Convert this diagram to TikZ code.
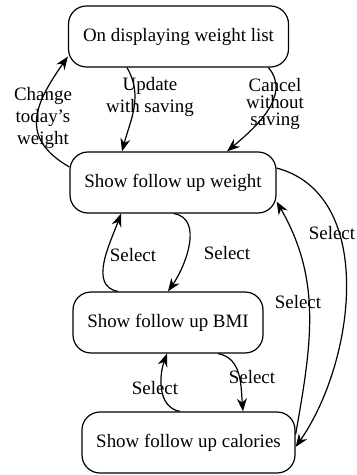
\documentclass[tikz,border=0pt]{standalone}
\usepackage{fontspec}
\setmainfont{Liberation Serif}
\usetikzlibrary{arrows.meta}

\begin{document}
\begin{tikzpicture}[x=1bp,y=1bp,
	state/.style={draw, line width=1.2bp, rounded corners=18bp,
		minimum height=61bp, inner sep=0pt, font=\fontsize{19}{22}\selectfont},
	trans/.style={line width=1.2bp, -{Stealth[length=13bp,width=10bp]}},
	lbl/.style={align=center, inner sep=0pt, font=\fontsize{19}{22}\selectfont}]
	%\draw[help lines] (0,0) grid (356,-475);
	\useasboundingbox (0,0) rectangle (356,-475);
	
	% states
	\node[state, minimum width=220bp] (list) at (178.5,-36.5) {On displaying weight list};
	\node[state, minimum width=206bp] (weight) at (173,-182.5) {Show follow up weight};
	\node[state, minimum width=190bp] (bmi) at (168,-322.5) {Show follow up BMI};
	\node[state, minimum width=213bp] (calories) at (188.5,-442.5) {Show follow up calories};
	
	% labels
	\node[lbl] (change) at (43,-118) {Change\\today's\\weight};
	\node[lbl] (update) at (150,-97) {Update\\with saving};
	\node[lbl, font=\fontsize{19}{17.5}\selectfont] (cancel) at (275,-104) {Cancel\\without\\saving};
	\node[lbl] (selA) at (227,-253) {Select};
	\node[lbl] (selB) at (133,-255) {Select};
	\node[lbl] (selC) at (332,-233) {Select};
	\node[lbl] (selD) at (298,-302) {Select};
	\node[lbl] (selE) at (252,-377) {Select};
	\node[lbl] (selF) at (155,-388) {Select};
	
	% transitions
	\draw[trans] ([yshift=15.5bp]weight.west) to[out=150,in=235,looseness=1.35] ([yshift=-20bp]list.west);
	\draw[trans] ([xshift=-51.5bp]list.south) to[out=-60,in=75] ([xshift=-51bp]weight.north);
	\draw[trans] ([xshift=90bp]list.south) to[out=-50,in=40] ([xshift=54bp]weight.north);
	\draw[trans] ([xshift=1bp]weight.south) to[out=-10,in=55] (bmi.north);
	\draw[trans] ([xshift=-50bp]bmi.north) to[out=170,in=-110] ([xshift=-52bp]weight.south);
	\draw[trans] ([yshift=14.5bp]weight.east) to[out=-15,in=55,looseness=0.95] ([yshift=-4.5bp]calories.east);
	\draw[trans] ([yshift=8bp]calories.east) to[out=80,in=-60] ([yshift=-19bp]weight.east);
	\draw[trans] ([xshift=50bp]bmi.south) to[out=-10,in=95] ([xshift=54.5bp]calories.north);
	\draw[trans] ([xshift=-8.5bp]calories.north) to[out=170,in=-110] ([xshift=-1bp]bmi.south);
\end{tikzpicture}
\end{document}
